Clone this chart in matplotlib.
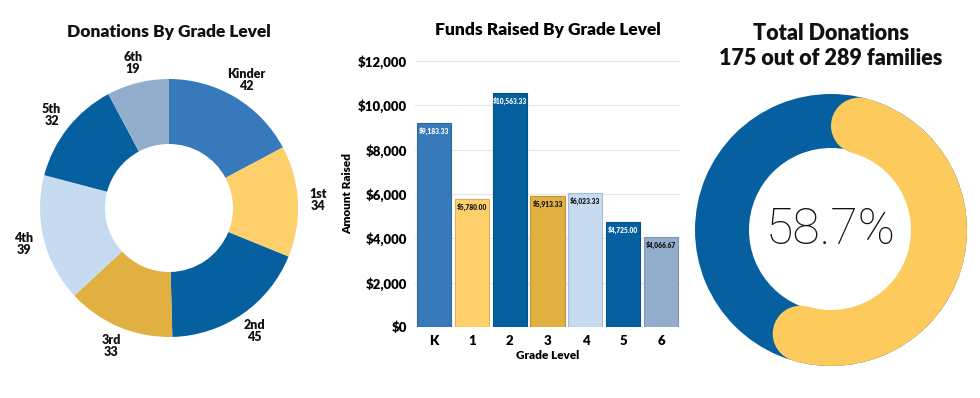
import numpy as np
import matplotlib.pyplot as plt
from matplotlib.patches import Wedge, Circle
from matplotlib.ticker import FuncFormatter
import matplotlib.colors as mcolors

plt.rcParams['font.family'] = ['Lato', 'DejaVu Sans']

# donations (families) by grade
grades = ['Kinder', '1st', '2nd', '3rd', '4th', '5th', '6th']
families = [42, 34, 45, 33, 39, 32, 19]

# funds raised by grade
grade_ticks = ['K', '1', '2', '3', '4', '5', '6']
funds = [9183.33, 5780.00, 10563.33, 5913.33, 6023.33, 4725.00, 4066.67]

colors = ['#3779BA', '#FDD06B', '#0660A0', '#E0B041', '#C6DBF0', '#0660A0', '#93AECD']
dark_text = [False, True, False, True, True, False, True]

# total participation (percentage as shown on the dashboard)
donating_families = 175
total_families = 289
pct_shown = 58.7

W, H = 980, 398
fig = plt.figure(figsize=(W / 100, H / 100), dpi=100)

# overlay axes in pixel units (y up) for the two rings
ax = fig.add_axes([0, 0, 1, 1])

# --- left donut ---
cx, cy, r = 169, H - 208, 129
wedges, _ = ax.pie(families, colors=colors, startangle=90, counterclock=False,
                   center=(cx, cy), radius=r,
                   wedgeprops=dict(width=65, linewidth=0))
total = sum(families)
cum = 0
for name, val in zip(grades, families):
    mid = (cum + val / 2) / total * 2 * np.pi
    cum += val
    lr = r * 1.16
    lx = cx + lr * np.sin(mid)
    ly = cy + lr * np.cos(mid)
    ax.text(lx, ly, f'{name}\n{val}', ha='center', va='center',
            fontsize=9, fontweight='heavy', linespacing=1.0, color='#111111')
ax.text(cx, H - 32, 'Donations By Grade Level', ha='center', va='center',
        fontsize=12.5, fontweight='heavy', color='#111111')

# --- right progress ring ---
rx, ry, ro = 831, H - 230, 136
share = pct_shown / 100
ax.add_patch(Wedge((rx, ry), ro, 0, 360, width=54, facecolor='#0660A0', linewidth=0))
band = 56
mid_r = ro - band / 2
cap_deg = np.rad2deg(np.arcsin((band / 2) / mid_r))
a_start = cap_deg
a_end = 360 * share - cap_deg
# convert clockwise-from-top angles to matplotlib angles
t1, t2 = 90 - a_end, 90 - a_start
ax.add_patch(Wedge((rx, ry), ro, t1, t2, width=band, facecolor='#FDCA5D', linewidth=0))
for a in (a_start, a_end):
    th = np.deg2rad(a)
    ax.add_patch(Circle((rx + mid_r * np.sin(th), ry + mid_r * np.cos(th)), band / 2,
                        facecolor='#FDCA5D', linewidth=0))
ax.text(rx, ry, f'{pct_shown:.1f}%', ha='center', va='center',
        fontsize=36, fontweight='light', family=['Roboto', 'DejaVu Sans'], color='#111111')
ax.text(rx, H - 46, f'Total Donations\n{donating_families} out of {total_families} families',
        ha='center', va='center', fontsize=15.5, fontweight='heavy', linespacing=1.25,
        color='#111111')

ax.set_xlim(0, W)
ax.set_ylim(0, H)
ax.set_aspect('auto')
ax.axis('off')

# --- bar chart ---
bx = fig.add_axes([415 / W, 71 / H, 265 / W, 266 / H])
x = np.arange(len(funds))
edges = [tuple(np.array(mcolors.to_rgb(c)) * 0.85) for c in colors]
bars = bx.bar(x, funds, width=0.9, color=colors, edgecolor=edges, linewidth=0.8, zorder=3)
for xi, v, dt in zip(x, funds, dark_text):
    bx.text(xi, v - 150, f'${v:,.2f}', ha='center', va='top', fontsize=4.8,
            fontweight='heavy', color='#111111' if dt else 'white', zorder=4)
bx.set_xlim(-0.5, len(funds) - 0.5)
bx.set_ylim(0, 12000)
bx.set_yticks(np.arange(0, 12001, 2000))
bx.yaxis.set_major_formatter(FuncFormatter(lambda v, p: f'${v:,.0f}'))
bx.set_xticks(x)
bx.set_xticklabels(grade_ticks)
for lab in bx.get_xticklabels() + bx.get_yticklabels():
    lab.set_fontweight('heavy')
    lab.set_fontsize(9.5)
bx.tick_params(length=0, pad=6)
bx.grid(True, axis='y', color='#E6E6E6', linewidth=0.8, zorder=0)
for s in bx.spines.values():
    s.set_visible(False)
bx.set_xlabel('Grade Level', fontsize=8.5, fontweight='heavy', labelpad=2)
bx.set_ylabel('Amount Raised', fontsize=8.5, fontweight='heavy', labelpad=3)
bx.set_title('Funds Raised By Grade Level', fontsize=12.5, fontweight='heavy', pad=19)

fig.savefig('out.png', dpi=100)
